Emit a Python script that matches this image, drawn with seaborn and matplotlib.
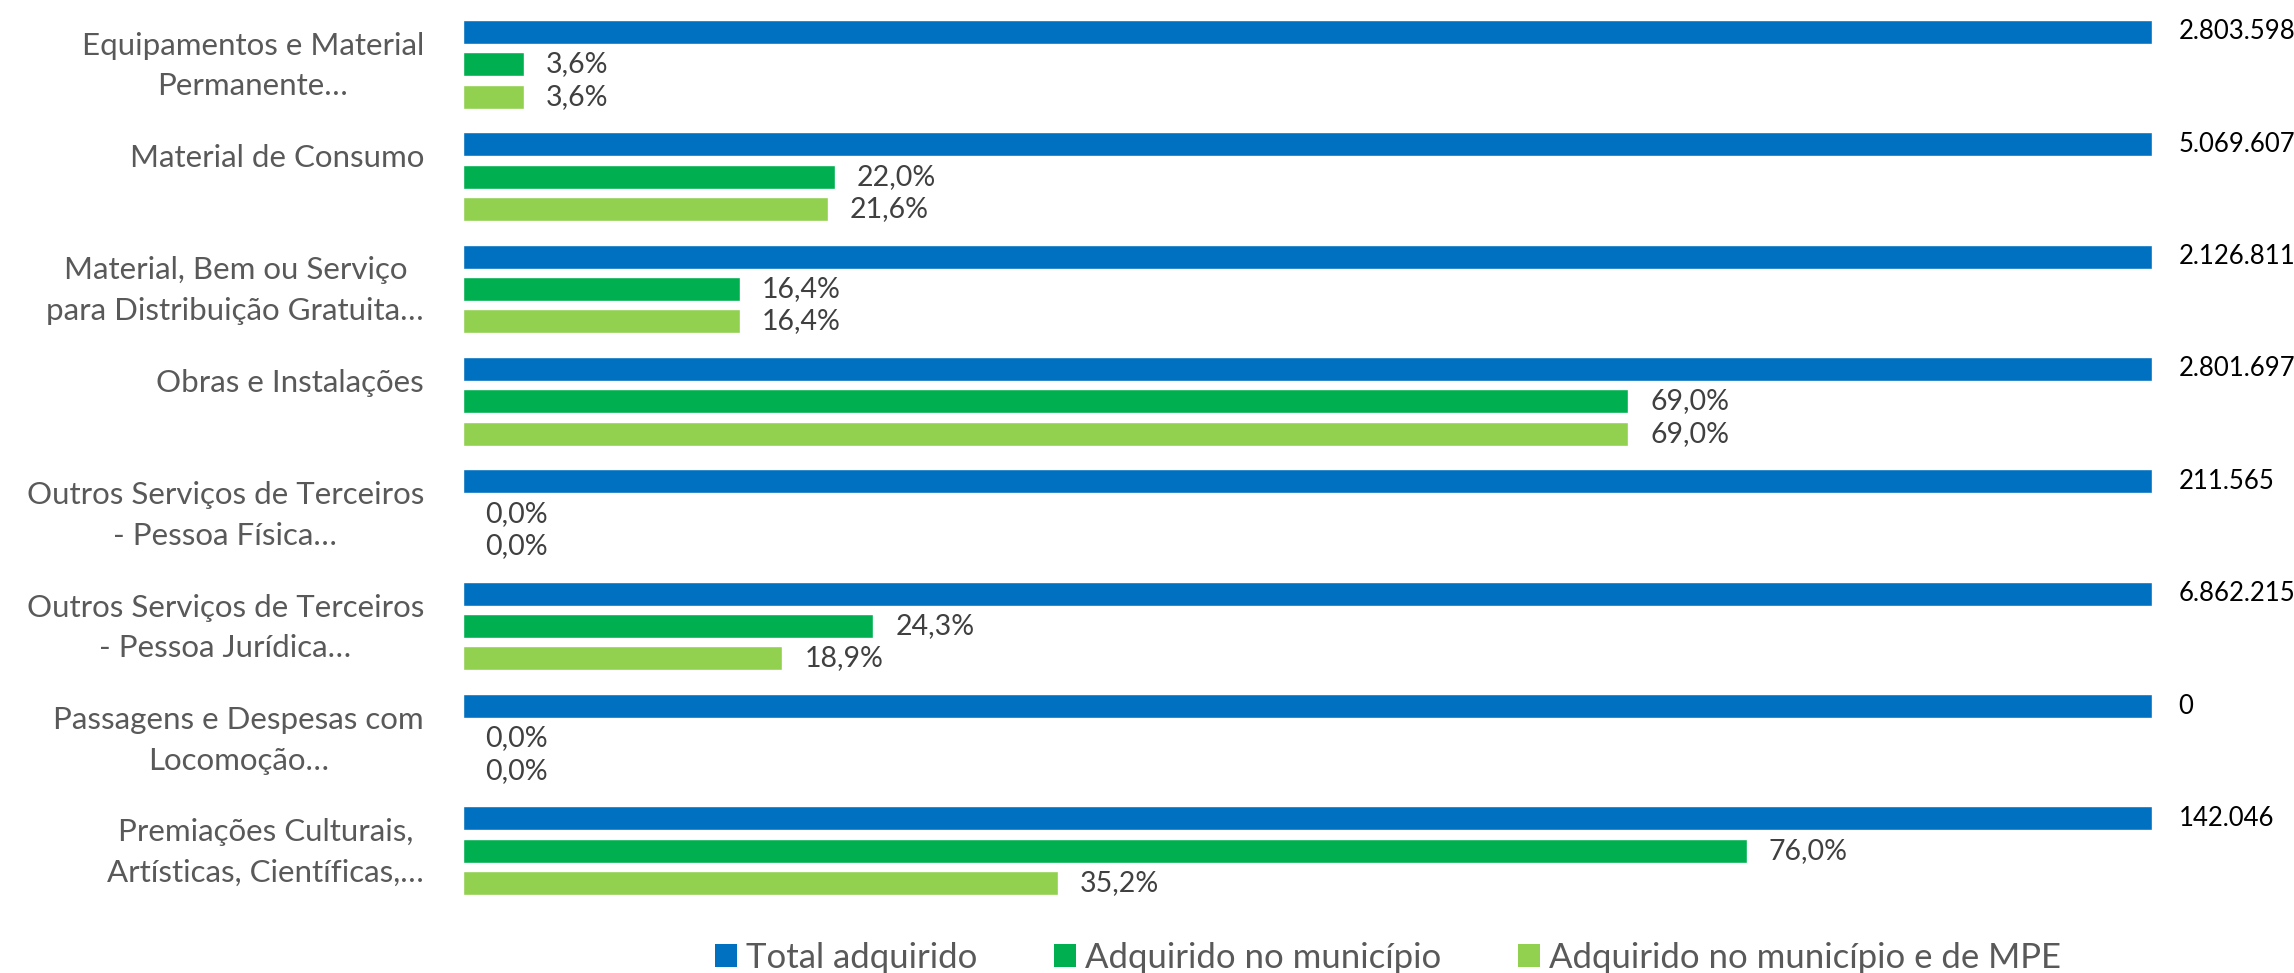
import pandas as pd
import numpy as np
import seaborn as sns
import matplotlib.pyplot as plt
import matplotlib.transforms as mtransforms
from matplotlib.patches import Patch

categorias = [
    "Equipamentos e Material\nPermanente…",
    "Material de Consumo\n ",
    "Material, Bem ou Serviço\npara Distribuição Gratuita…",
    "Obras e Instalações\n ",
    "Outros Serviços de Terceiros\n- Pessoa Física…",
    "Outros Serviços de Terceiros\n- Pessoa Jurídica…",
    "Passagens e Despesas com\nLocomoção…",
    "Premiações Culturais,\nArtísticas, Científicas,…",
]
total_adquirido = [2803598, 5069607, 2126811, 2801697, 211565, 6862215, 0, 142046]
pct_total = [100, 100, 100, 100, 100, 100, 100, 100]
pct_municipio = [3.6, 22.0, 16.4, 69.0, 0.0, 24.3, 0.0, 76.0]
pct_mpe = [3.6, 21.6, 16.4, 69.0, 0.0, 18.9, 0.0, 35.2]
series = ["Total adquirido", "Adquirido no município", "Adquirido no município e de MPE"]
cores = ["#0070C0", "#00B050", "#92D050"]

df = pd.DataFrame({
    "categoria": categorias * 3,
    "serie": np.repeat(series, len(categorias)),
    "valor": pct_total + pct_municipio + pct_mpe,
})

sns.set_style("white")
plt.rcParams['font.family'] = ['Lato', 'DejaVu Sans']

fig = plt.figure(figsize=(22.94, 9.73), dpi=100)
ax = fig.add_axes([463/2294, 1 - 907/973, 1689/2294, 899/973])

sns.barplot(data=df, y="categoria", x="valor", hue="serie", palette=cores, saturation=1,
            orient="h", width=0.864, gap=0.26, legend=False, ax=ax)

ax.set_xlim(0, 100)
ax.set_ylim(7.5, -0.5)
sns.despine(ax=ax, left=True, bottom=True)
ax.set_xticks([])
ax.set_xlabel("")
ax.set_ylabel("")
ax.tick_params(axis="y", length=0, pad=28)
shift = mtransforms.ScaledTranslation(0, 7/100, fig.dpi_scale_trans)  # sobe ~7px
for lbl in ax.get_yticklabels():
    lbl.set_fontsize(22.5)
    lbl.set_color("#595959")
    lbl.set_multialignment("center")
    lbl.set_linespacing(1.55)
    lbl.set_transform(lbl.get_transform() + shift)

# rotulos: total em valores absolutos, os outros em %
ax.bar_label(ax.containers[0], labels=[f"{v:,}".replace(",", ".") for v in total_adquirido],
             padding=19, fontsize=18.5, color="black")
ax.bar_label(ax.containers[1], labels=[f"{v:.1f}".replace(".", ",") + "%" for v in pct_municipio],
             padding=16, fontsize=20.5, color="#404040")
ax.bar_label(ax.containers[2], labels=[f"{v:.1f}".replace(".", ",") + "%" for v in pct_mpe],
             padding=16, fontsize=20.5, color="#404040")

handles = [Patch(facecolor=c, edgecolor="none") for c in cores]
fig.legend(handles, series, loc="center", bbox_to_anchor=(0.605, 1 - 958/973), ncol=3,
           frameon=False, fontsize=25, labelcolor="#595959", handlelength=0.65,
           handleheight=0.65, handletextpad=0.25, columnspacing=2.2)

fig.savefig("out.png", dpi=100)
